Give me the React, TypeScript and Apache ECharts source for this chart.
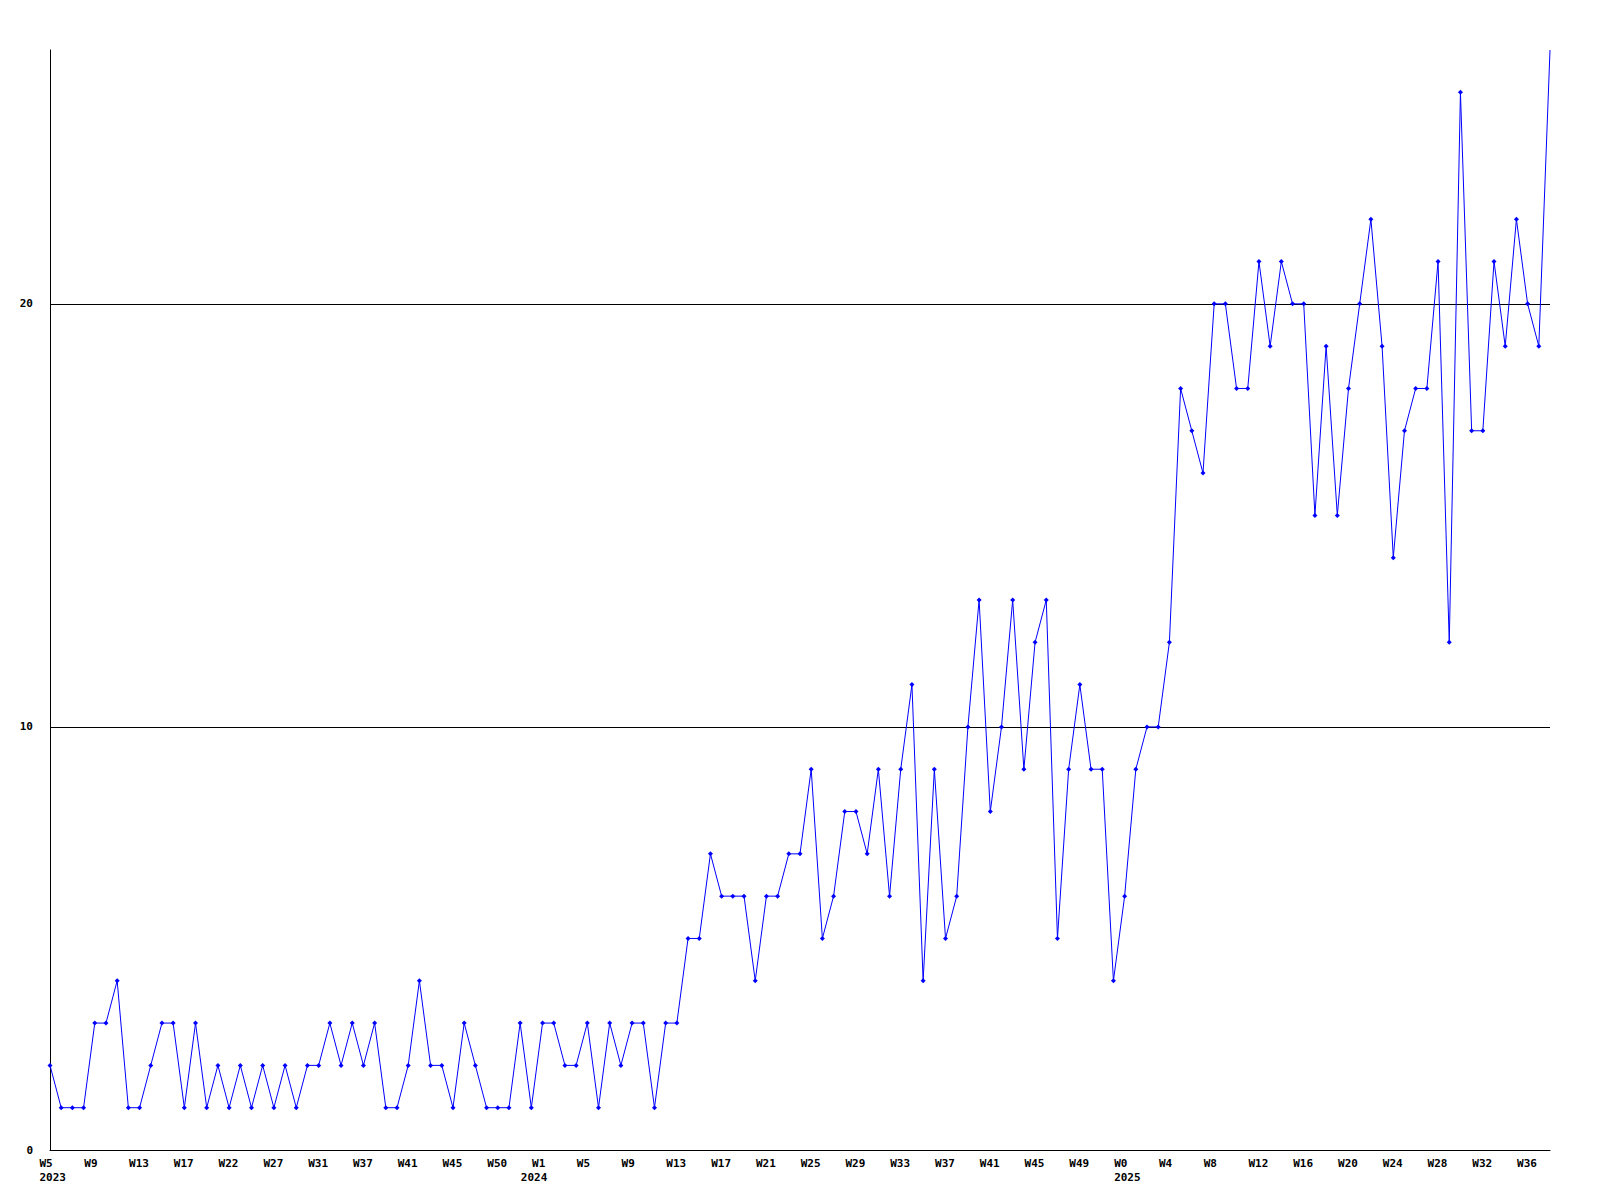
import React, { useEffect, useRef } from "react";
import * as echarts from "echarts";

// Week labels (category axis), one per data point
const weeks2023 = [
  "W5", "W6", "W7", "W8", "W9", "W10", "W11", "W12", "W13", "W14", "W15", "W16",
  "W17", "W18", "W19", "W21", "W22", "W23", "W24", "W26", "W27", "W28", "W29", "W30",
  "W31", "W32", "W34", "W35", "W37", "W38", "W39", "W40", "W41", "W42", "W43", "W44",
  "W45", "W46", "W47", "W49", "W50", "W51", "W52",
];
const weeks2024 = [
  "W0", "W1", "W2", "W3", "W4", "W5", "W6", "W7", "W8", "W9", "W10", "W11", "W12", "W13",
  "W14", "W15", "W16", "W17", "W18", "W19", "W20", "W21", "W22", "W23", "W24", "W25",
  "W26", "W27", "W28", "W29", "W30", "W31", "W32", "W33", "W34", "W35", "W36", "W37",
  "W38", "W39", "W40", "W41", "W42", "W43", "W44", "W45", "W46", "W47", "W48", "W49",
  "W50", "W51", "W52",
];
const weeks2025 = [
  "W0", "W1", "W2", "W3", "W4", "W5", "W6", "W7", "W8", "W9", "W10", "W11", "W12",
  "W13", "W14", "W15", "W16", "W17", "W18", "W19", "W20", "W21", "W22", "W23", "W24",
  "W25", "W26", "W27", "W28", "W29", "W30", "W31", "W32", "W33", "W34", "W35", "W36",
  "W37", "W38",
];
const years = ["2023", "2024", "2025"];

// Weekly counts
const values2023 = [
  2, 1, 1, 1, 3, 3, 4, 1, 1, 2, 3, 3, 1, 3, 1, 2, 1, 2, 1, 2, 1, 2, 1, 2,
  2, 3, 2, 3, 2, 3, 1, 1, 2, 4, 2, 2, 1, 3, 2, 1, 1, 1, 3,
];
const values2024 = [
  1, 3, 3, 2, 2, 3, 1, 3, 2, 3, 3, 1, 3, 3, 5, 5, 7, 6, 6, 6, 4, 6, 6, 7, 7, 9, 5,
  6, 8, 8, 7, 9, 6, 9, 11, 4, 9, 5, 6, 10, 13, 8, 10, 13, 9, 12, 13, 5, 9, 11, 9,
  9, 4,
];
const values2025 = [
  6, 9, 10, 10, 12, 18, 17, 16, 20, 20, 18, 18, 21, 19, 21, 20, 20, 15, 19, 15,
  18, 20, 22, 19, 14, 17, 18, 18, 21, 12, 25, 17, 17, 21, 19, 22, 20, 19, 26,
];

const yTicks = [0, 10, 20];

const FONT = "'DejaVu Sans Mono', 'Liberation Mono', monospace";

export default function App() {
  const ref = useRef<HTMLDivElement>(null);

  useEffect(() => {
    document.body.style.margin = "0";
    if (!ref.current) return;
    const chart = echarts.init(ref.current, undefined, { renderer: "svg" });

    const categories = [...weeks2023, ...weeks2024, ...weeks2025];
    const yearStart: Record<number, string> = {
      0: years[0],
      [weeks2023.length]: years[1],
      [weeks2023.length + weeks2024.length]: years[2],
    };
    const values = [...values2023, ...values2024, ...values2025];
    const lastIdx = values.length - 1;
    const seriesData = values.map((v, i) =>
      i === lastIdx ? { value: v, symbolSize: 0 } : v
    );

    chart.setOption({
      animation: false,
      backgroundColor: "#ffffff",
      grid: { left: 50, right: 50, top: 50, bottom: 50, containLabel: false },
      xAxis: {
        type: "category",
        data: categories,
        boundaryGap: false,
        axisLine: { show: true, lineStyle: { color: "#000", width: 1 } },
        axisTick: { show: false },
        splitLine: { show: false },
        axisLabel: {
          interval: (idx: number) => idx % 4 === 0 || yearStart[idx] !== undefined,
          margin: 6,
          color: "#000",
          formatter: (val: string, idx: number) => {
            const y = yearStart[idx];
            const top = idx % 4 === 0 ? val : " ";
            return `{w|${top}}` + (y ? `\n{w|${y}}` : "");
          },
          rich: {
            w: {
              width: 21,
              height: 14,
              align: "left",
              fontFamily: FONT,
              fontSize: 11,
              fontWeight: "bold",
              lineHeight: 14,
              color: "#000",
            },
          },
        },
      },
      yAxis: {
        type: "value",
        min: 0,
        max: 26,
        interval: 10,
        axisLine: { show: true, lineStyle: { color: "#000", width: 1 } },
        axisTick: { show: false },
        splitLine: {
          show: true,
          showMinLine: false,
          showMaxLine: false,
          lineStyle: { color: "#000", width: 1, type: "solid" },
        },
        axisLabel: {
          margin: 17,
          color: "#000",
          fontFamily: FONT,
          fontSize: 11,
          fontWeight: "bold",
          showMaxLabel: false,
          formatter: (v: number) => (yTicks.includes(v) ? String(v) : ""),
        },
      },
      series: [
        {
          type: "line",
          data: seriesData,
          symbol: "diamond",
          symbolSize: 5,
          showAllSymbol: true,
          lineStyle: { color: "#0000ff", width: 1 },
          itemStyle: { color: "#0000ff" },
          emphasis: { disabled: true },
          clip: false,
        },
      ],
    });

    return () => chart.dispose();
  }, []);

  return <div ref={ref} style={{ width: 1600, height: 1200 }} />;
}
